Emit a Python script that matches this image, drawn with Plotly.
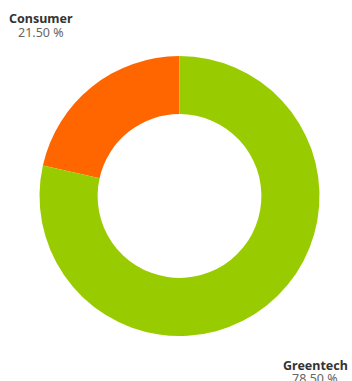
import plotly.graph_objects as go

# Market share by segment
segments = ["Consumer", "Greentech"]
shares = [21.50, 78.50]
colors = ["#ff6600", "#99cc00"]

W, H = 352, 381
cx, cy, r = 179.5, 196, 140  # donut centre and outer radius, in pixels

# First slice runs counterclockwise from 12 o'clock
start_rot = -360.0 * shares[0] / sum(shares)

fig = go.Figure(
    go.Pie(
        labels=segments,
        values=shares,
        hole=0.585,
        sort=False,
        direction="clockwise",
        rotation=start_rot,
        marker=dict(colors=colors, line=dict(width=0)),
        textinfo="none",
        hoverinfo="label+percent",
        showlegend=False,
        domain=dict(
            x=[(cx - r) / W, (cx + r) / W],
            y=[(H - cy - r) / H, (H - cy + r) / H],
        ),
    )
)

# Segment labels placed at the corners of the chart
label_pos = {"Consumer": (41, 19), "Greentech": (315, 365)}
font_family = "Noto Sans, Roboto, sans-serif"
for name, val in zip(segments, shares):
    px, py = label_pos[name]
    fig.add_annotation(
        x=px / W, y=1 - py / H, xref="paper", yref="paper",
        text=f"<b>{name}</b>", showarrow=False,
        font=dict(family=font_family, size=12.5, color="#333333"),
        xanchor="center", yanchor="middle",
    )
    fig.add_annotation(
        x=px / W, y=1 - (py + 13) / H, xref="paper", yref="paper",
        text=f"{val:.2f} %", showarrow=False,
        font=dict(family=font_family, size=12.5, color="#666666"),
        xanchor="center", yanchor="middle",
    )

fig.update_layout(
    width=W, height=H,
    margin=dict(l=0, r=0, t=0, b=0),
    paper_bgcolor="white",
    plot_bgcolor="white",
)

fig.write_html("out.html")
